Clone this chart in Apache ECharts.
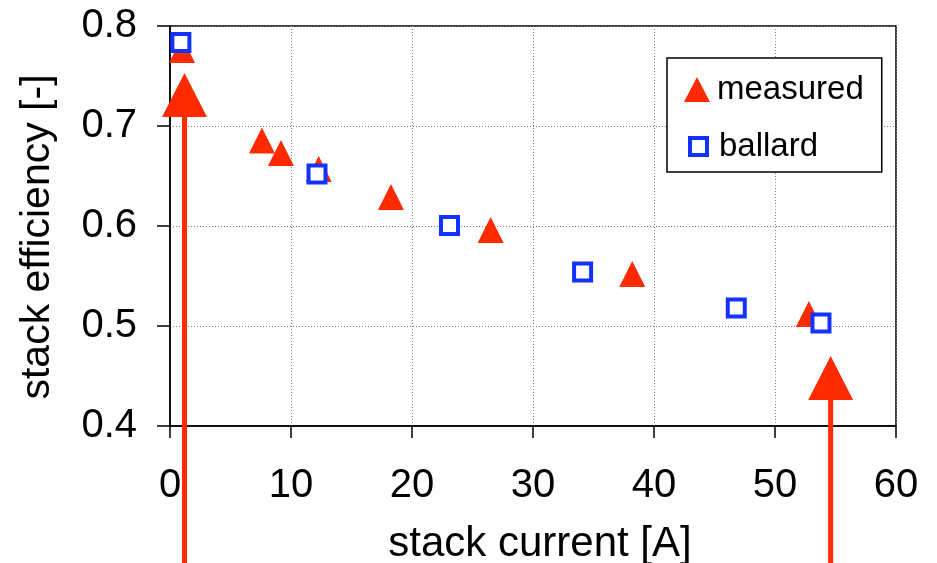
<!DOCTYPE html>
<html>
<head>
<meta charset="utf-8">
<script src="https://cdn.jsdelivr.net/npm/echarts@6/dist/echarts.min.js"></script>
<style>
html,body{margin:0;padding:0;background:#fff;}
#c{width:937px;height:563px;}
</style>
</head>
<body>
<div id="c"></div>
<script>
var measuredX = [0.99, 7.6, 9.17, 12.29, 18.26, 26.5, 38.2, 52.8];
var measuredY = [0.776, 0.6855, 0.673, 0.657, 0.629, 0.596, 0.552, 0.512];
var ballardX = [0.9, 12.15, 23.1, 34.1, 46.8, 53.8];
var ballardY = [0.7835, 0.652, 0.6005, 0.554, 0.518, 0.503];
var arrowX = [1.2, 54.6];
var arrowTipY = [0.753, 0.47];
var arrowTailY = [0.26, 0.26];
var seriesNames = ['measured', 'ballard'];
var xTitle = 'stack current [A]';
var yTitle = 'stack efficiency [-]';

var RED = '#ff2a00';
var BLUE = '#1432ff';
var FONT = 'Liberation Sans, Arial, sans-serif';

function zip(a, b) { return a.map(function (v, i) { return [v, b[i]]; }); }
var arrowData = arrowX.map(function (v, i) { return [v, arrowTipY[i], arrowTailY[i]]; });

var legendText = {fontFamily: FONT, fontSize: 33, color: '#000'};

var chart = echarts.init(document.getElementById('c'), null, {renderer: 'canvas'});
chart.setOption({
  animation: false,
  backgroundColor: '#fff',
  grid: {left: 170, right: 41, top: 26, bottom: 137, outerBoundsMode: 'none', containLabel: false,
    show: true, borderColor: '#000', borderWidth: 1.5, backgroundColor: 'transparent'},
  legend: [
    {
      data: [seriesNames[0]],
      orient: 'vertical',
      left: 667, top: 58,
      padding: [15, 18, 66, 17],
      itemWidth: 26, itemHeight: 25,
      borderColor: '#000', borderWidth: 1.5,
      backgroundColor: '#fff',
      textStyle: Object.assign({padding: [0, 0, 0, 2]}, legendText)
    },
    {
      data: [seriesNames[1]],
      orient: 'vertical',
      left: 688, top: 130,
      padding: 0,
      itemWidth: 17, itemHeight: 17,
      itemStyle: {borderWidth: 4, borderColor: BLUE, color: '#fff'},
      textStyle: Object.assign({padding: [0, 0, 0, 7]}, legendText)
    }
  ],
  xAxis: {
    type: 'value', min: 0, max: 60, interval: 10,
    name: xTitle, nameLocation: 'middle', nameGap: 97,
    nameTextStyle: {fontFamily: FONT, fontSize: 42, color: '#000', padding: [0, 0, 0, 14]},
    axisLine: {show: true, onZero: false, lineStyle: {color: '#000', width: 1.5}},
    axisTick: {show: true, inside: false, length: 12, lineStyle: {color: '#000', width: 1.5}},
    axisLabel: {fontFamily: FONT, fontSize: 40, color: '#000', margin: 40},
    splitLine: {show: true, lineStyle: {color: '#808080', width: 1, type: [1, 2]}}
  },
  yAxis: {
    type: 'value', min: 0.4, max: 0.8, interval: 0.1,
    name: yTitle, nameLocation: 'middle', nameGap: 112, nameRotate: 90,
    nameTextStyle: {fontFamily: FONT, fontSize: 41, color: '#000', padding: [0, 22, 0, 0]},
    axisLine: {show: true, onZero: false, lineStyle: {color: '#000', width: 1.5}},
    axisTick: {show: true, inside: false, length: 13, lineStyle: {color: '#000', width: 1.5}},
    axisLabel: {fontFamily: FONT, fontSize: 40, color: '#000', margin: 33,
      formatter: function (v) { return v.toFixed(1); }},
    splitLine: {show: true, lineStyle: {color: '#808080', width: 1, type: [1, 2]}}
  },
  series: [
    {
      name: seriesNames[0], type: 'scatter', data: zip(measuredX, measuredY),
      symbol: 'triangle', symbolSize: [26, 26],
      itemStyle: {color: RED, opacity: 1}, z: 3
    },
    {
      name: seriesNames[1], type: 'scatter', data: zip(ballardX, ballardY),
      symbol: 'rect', symbolSize: 17,
      itemStyle: {color: '#fff', borderColor: BLUE, borderWidth: 4, opacity: 1}, z: 4
    },
    {
      name: 'arrows', type: 'custom', data: arrowData, clip: false, z: 5,
      renderItem: function (params, api) {
        var tip = api.coord([api.value(0), api.value(1)]);
        var tail = api.coord([api.value(0), api.value(2)]);
        var hw = 22.5, hh = 44;
        return {
          type: 'group',
          children: [
            {type: 'line', shape: {x1: tip[0], y1: tip[1] + hh - 2, x2: tail[0], y2: tail[1]},
              style: {stroke: RED, lineWidth: 5}},
            {type: 'polygon', shape: {points: [[tip[0], tip[1]], [tip[0] - hw, tip[1] + hh], [tip[0] + hw, tip[1] + hh]]},
              style: {fill: RED}}
          ]
        };
      }
    }
  ]
});
</script>
</body>
</html>
